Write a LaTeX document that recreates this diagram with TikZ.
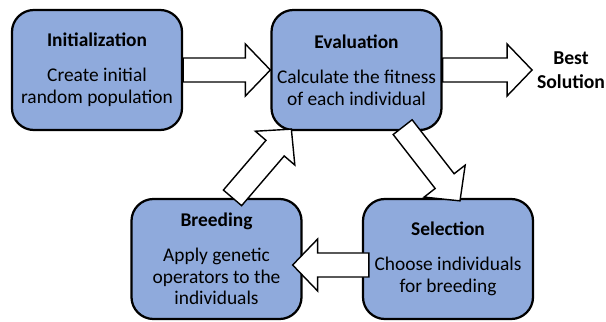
\documentclass[tikz,border=0pt]{standalone}
\usepackage{fontspec}
\setmainfont{Carlito}
\usetikzlibrary{calc}
\definecolor{boxblue}{HTML}{8FAADC}
\tikzset{
  stage/.style={draw, line width=1.6pt, fill=boxblue, rounded corners=0.55cm,
    minimum width=4.25cm, minimum height=3cm, align=center,
    font=\fontsize{13.8}{15.6}\selectfont},
  fatarrow/.style={draw, line width=1pt, fill=white, line join=miter}
}
% block arrow from #1 to #2
\newcommand{\fatarrow}[2]{%
  \coordinate (fa-h) at ($(#2)!0.625cm!(#1)$);
  \draw[fatarrow] ($(#1)!0.3cm!90:(#2)$) -- ($(fa-h)!0.3cm!-90:(#1)$)
    -- ($(fa-h)!0.65cm!-90:(#1)$) -- (#2) -- ($(fa-h)!0.65cm!90:(#1)$)
    -- ($(fa-h)!0.3cm!90:(#1)$) -- ($(#1)!0.3cm!-90:(#2)$) -- cycle;
}
\begin{document}
\begin{tikzpicture}[x=0.025cm, y=-0.025cm]
\useasboundingbox (0,0) rectangle (606,322);
\node[stage] (init) at (97,70) {\textbf{Initialization}\\[9pt]Create initial\\random population};
\node[stage] (eval) at (356.5,70) {\textbf{Evaluation}\\[9pt]Calculate the fitness\\of each individual};
\node[stage] (sel) at (448,259) {\textbf{Selection}\\[9pt]Choose individuals\\for breeding};
\node[stage] (breed) at (216.5,259) {\textbf{Breeding}\\[9pt]Apply genetic\\operators to the\\individuals};
\node[font=\fontsize{14}{17}\selectfont\bfseries, align=center] (best) at (571,70) {Best\\Solution};
% arrows
\coordinate (evalout) at ($(eval.south east)+(-40,-4)$);
\coordinate (selin) at ($(sel.north)+(12,3)$);
\coordinate (selout) at ($(sel.west)+(7,6)$);
\coordinate (breedin) at ($(breed.east)+(-10,6)$);
\coordinate (breedout) at ($(breed.north)+(16,0)$);
\coordinate (evalin) at ($(eval.south west)+(21,-2)$);
\fatarrow{init.east}{eval.west}
\fatarrow{eval.east}{best.west}
\fatarrow{evalout}{selin}
\fatarrow{selout}{breedin}
\fatarrow{breedout}{evalin}
\end{tikzpicture}
\end{document}
